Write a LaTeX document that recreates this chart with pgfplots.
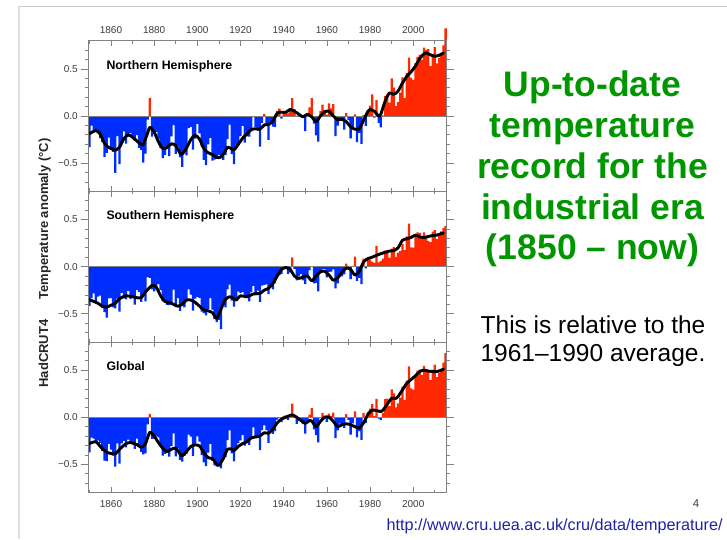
\documentclass[border=0pt]{standalone}
\usepackage{fontspec}
\setmainfont{Liberation Sans}
\usepackage{pgfplots}
\usepackage{pgfplotstable}
\pgfplotsset{compat=1.18}

\definecolor{barblue}{RGB}{0,45,255}
\definecolor{barred}{RGB}{255,40,0}
\definecolor{titlegreen}{RGB}{0,150,0}
\definecolor{urlblue}{RGB}{30,35,165}
\definecolor{axisgray}{RGB}{130,130,130}
\definecolor{labelgray}{RGB}{60,60,60}

% HadCRUT4 annual anomalies (deg C, relative to 1961-1990)
\pgfplotstableread{
year nh sh gl
1850 -0.330 -0.416 -0.373
1851 -0.102 -0.334 -0.218
1852 -0.172 -0.284 -0.228
1853 -0.162 -0.376 -0.269
1854 -0.178 -0.318 -0.248
1855 -0.236 -0.308 -0.272
1856 -0.275 -0.441 -0.358
1857 -0.438 -0.484 -0.461
1858 -0.391 -0.543 -0.467
1859 -0.230 -0.338 -0.284
1860 -0.350 -0.336 -0.343
1861 -0.382 -0.432 -0.407
1862 -0.604 -0.444 -0.524
1863 -0.215 -0.341 -0.278
1864 -0.510 -0.478 -0.494
1865 -0.280 -0.278 -0.279
1866 -0.164 -0.338 -0.251
1867 -0.293 -0.349 -0.321
1868 -0.218 -0.258 -0.238
1869 -0.182 -0.342 -0.262
1870 -0.231 -0.321 -0.276
1871 -0.265 -0.405 -0.335
1872 -0.203 -0.251 -0.227
1873 -0.339 -0.269 -0.304
1874 -0.362 -0.374 -0.368
1875 -0.495 -0.295 -0.395
1876 -0.400 -0.368 -0.384
1877 -0.039 -0.111 -0.075
1878 0.190 -0.120 0.035
1879 -0.218 -0.242 -0.230
1880 -0.190 -0.264 -0.227
1881 -0.168 -0.232 -0.200
1882 -0.241 -0.185 -0.213
1883 -0.341 -0.251 -0.296
1884 -0.448 -0.370 -0.409
1885 -0.416 -0.362 -0.389
1886 -0.327 -0.407 -0.367
1887 -0.427 -0.409 -0.418
1888 -0.217 -0.397 -0.307
1889 -0.097 -0.245 -0.171
1890 -0.402 -0.430 -0.416
1891 -0.326 -0.334 -0.330
1892 -0.440 -0.470 -0.455
1893 -0.540 -0.406 -0.473
1894 -0.386 -0.434 -0.410
1895 -0.418 -0.362 -0.390
1896 -0.130 -0.242 -0.186
1897 -0.115 -0.297 -0.206
1898 -0.356 -0.468 -0.412
1899 -0.239 -0.339 -0.289
1900 -0.084 -0.322 -0.203
1901 -0.185 -0.333 -0.259
1902 -0.326 -0.478 -0.402
1903 -0.465 -0.493 -0.479
1904 -0.521 -0.519 -0.520
1905 -0.301 -0.453 -0.377
1906 -0.232 -0.334 -0.283
1907 -0.473 -0.457 -0.465
1908 -0.463 -0.559 -0.511
1909 -0.454 -0.590 -0.522
1910 -0.414 -0.566 -0.490
1911 -0.424 -0.664 -0.544
1912 -0.467 -0.407 -0.437
1913 -0.414 -0.434 -0.424
1914 -0.245 -0.243 -0.244
1915 -0.091 -0.191 -0.141
1916 -0.406 -0.360 -0.383
1917 -0.510 -0.426 -0.468
1918 -0.313 -0.353 -0.333
1919 -0.285 -0.265 -0.275
1920 -0.213 -0.281 -0.247
1921 -0.104 -0.270 -0.187
1922 -0.282 -0.322 -0.302
1923 -0.216 -0.336 -0.276
1924 -0.220 -0.368 -0.294
1925 -0.160 -0.270 -0.215
1926 -0.011 -0.205 -0.108
1927 -0.118 -0.302 -0.210
1928 -0.156 -0.256 -0.206
1929 -0.325 -0.375 -0.350
1930 -0.072 -0.202 -0.137
1931 0.021 -0.195 -0.087
1932 -0.084 -0.190 -0.137
1933 -0.254 -0.292 -0.273
1934 -0.060 -0.202 -0.131
1935 -0.114 -0.242 -0.178
1936 -0.119 -0.175 -0.147
1937 0.054 -0.106 -0.026
1938 0.079 -0.091 -0.006
1939 -0.027 -0.077 -0.052
1940 0.031 -0.003 0.014
1941 0.051 -0.011 0.020
1942 0.027 -0.081 -0.027
1943 0.054 -0.062 -0.004
1944 0.189 0.099 0.144
1945 0.073 -0.023 0.025
1946 0.003 -0.145 -0.071
1947 0.029 -0.105 -0.038
1948 0.001 -0.079 -0.039
1949 -0.003 -0.145 -0.074
1950 -0.160 -0.186 -0.173
1951 -0.007 -0.097 -0.052
1952 0.092 -0.036 0.028
1953 0.190 0.004 0.097
1954 -0.080 -0.178 -0.129
1955 -0.207 -0.173 -0.190
1956 -0.271 -0.263 -0.267
1957 0.054 -0.068 -0.007
1958 0.121 -0.029 0.046
1959 0.060 -0.026 0.017
1960 0.016 -0.114 -0.049
1961 0.134 -0.058 0.038
1962 0.082 -0.054 0.014
1963 0.126 -0.030 0.048
1964 -0.214 -0.232 -0.223
1965 -0.102 -0.178 -0.140
1966 -0.036 -0.100 -0.068
1967 -0.044 -0.104 -0.074
1968 -0.144 -0.082 -0.113
1969 0.033 0.031 0.032
1970 -0.043 -0.011 -0.027
1971 -0.238 -0.134 -0.186
1972 -0.137 0.007 -0.065
1973 0.017 0.107 0.062
1974 -0.277 -0.151 -0.214
1975 -0.179 -0.119 -0.149
1976 -0.296 -0.186 -0.241
1977 0.009 0.085 0.047
1978 -0.106 -0.018 -0.062
1979 0.045 0.069 0.057
1980 0.111 0.073 0.092
1981 0.230 0.050 0.140
1982 -0.018 0.040 0.011
1983 0.168 0.220 0.194
1984 -0.073 0.045 -0.014
1985 -0.120 0.060 -0.030
1986 0.006 0.084 0.045
1987 0.213 0.171 0.192
1988 0.230 0.166 0.198
1989 0.142 0.094 0.118
1990 0.400 0.192 0.296
1991 0.302 0.206 0.254
1992 0.106 0.104 0.105
1993 0.148 0.148 0.148
1994 0.248 0.168 0.208
1995 0.411 0.239 0.325
1996 0.190 0.176 0.183
1997 0.459 0.321 0.390
1998 0.620 0.458 0.539
1999 0.408 0.204 0.306
2000 0.386 0.202 0.294
2001 0.561 0.321 0.441
2002 0.627 0.365 0.496
2003 0.651 0.359 0.505
2004 0.598 0.296 0.447
2005 0.727 0.363 0.545
2006 0.699 0.313 0.506
2007 0.711 0.271 0.491
2008 0.530 0.260 0.395
2009 0.639 0.373 0.506
2010 0.733 0.387 0.560
2011 0.559 0.291 0.425
2012 0.617 0.323 0.470
2013 0.653 0.375 0.514
2014 0.750 0.408 0.579
2015 0.930 0.430 0.680
}\hadcrut

% Smoothed (decadal) curves
\pgfplotstableread{
year v
1850 -0.190
1851 -0.175
1853 -0.155
1855 -0.190
1857 -0.290
1859 -0.335
1861 -0.355
1862 -0.365
1864 -0.330
1866 -0.240
1868 -0.200
1870 -0.225
1872 -0.265
1874 -0.305
1875 -0.300
1877 -0.180
1878 -0.120
1880 -0.170
1882 -0.275
1884 -0.345
1886 -0.335
1888 -0.295
1890 -0.315
1892 -0.395
1893 -0.405
1895 -0.340
1897 -0.250
1899 -0.205
1901 -0.245
1903 -0.345
1905 -0.390
1907 -0.410
1909 -0.440
1911 -0.435
1913 -0.370
1914 -0.330
1916 -0.350
1917 -0.360
1919 -0.300
1921 -0.235
1923 -0.190
1925 -0.145
1927 -0.135
1929 -0.140
1931 -0.095
1933 -0.090
1935 -0.055
1937 0.030
1939 0.040
1941 0.040
1943 0.070
1945 0.050
1947 0.020
1949 -0.010
1951 0.020
1953 -0.010
1955 -0.060
1957 0.000
1959 0.045
1961 0.050
1963 0.000
1965 -0.040
1967 -0.035
1969 -0.060
1971 -0.115
1973 -0.140
1975 -0.135
1977 -0.045
1979 0.050
1980 0.070
1982 0.050
1984 0.000
1985 0.020
1987 0.160
1989 0.245
1991 0.230
1993 0.265
1995 0.350
1997 0.420
1999 0.470
2001 0.530
2003 0.610
2005 0.660
2006 0.670
2008 0.650
2010 0.635
2012 0.645
2014 0.670
}\nhsmooth

\pgfplotstableread{
year v
1850 -0.350
1852 -0.370
1854 -0.390
1856 -0.420
1858 -0.430
1860 -0.410
1862 -0.390
1864 -0.340
1867 -0.310
1870 -0.320
1872 -0.330
1874 -0.330
1876 -0.270
1879 -0.200
1881 -0.220
1883 -0.310
1885 -0.370
1888 -0.390
1891 -0.420
1893 -0.400
1895 -0.355
1897 -0.355
1899 -0.380
1901 -0.420
1903 -0.460
1905 -0.470
1907 -0.490
1909 -0.550
1911 -0.450
1913 -0.350
1915 -0.320
1917 -0.340
1918 -0.355
1920 -0.310
1923 -0.320
1926 -0.290
1929 -0.285
1931 -0.250
1933 -0.230
1935 -0.180
1937 -0.100
1939 -0.030
1941 -0.010
1943 -0.030
1945 -0.100
1947 -0.125
1949 -0.110
1951 -0.100
1953 -0.150
1955 -0.100
1957 -0.055
1959 -0.050
1961 -0.090
1963 -0.145
1965 -0.120
1967 -0.060
1969 -0.015
1971 -0.030
1973 -0.090
1975 -0.050
1977 0.050
1979 0.085
1981 0.100
1983 0.120
1986 0.145
1989 0.165
1991 0.170
1993 0.200
1995 0.280
1997 0.295
1999 0.310
2001 0.335
2003 0.315
2005 0.310
2007 0.320
2009 0.330
2011 0.335
2013 0.350
2014 0.355
}\shsmooth

\pgfplotstableread{
year v
1850 -0.280
1853 -0.260
1855 -0.310
1857 -0.355
1859 -0.380
1862 -0.390
1864 -0.340
1867 -0.280
1869 -0.270
1872 -0.290
1874 -0.320
1876 -0.280
1878 -0.160
1880 -0.200
1882 -0.270
1884 -0.330
1886 -0.365
1888 -0.340
1890 -0.330
1892 -0.390
1893 -0.410
1895 -0.365
1897 -0.310
1899 -0.295
1901 -0.305
1903 -0.375
1905 -0.430
1907 -0.440
1909 -0.500
1910 -0.510
1912 -0.440
1914 -0.340
1916 -0.340
1917 -0.355
1919 -0.310
1921 -0.280
1923 -0.260
1925 -0.220
1927 -0.210
1929 -0.200
1931 -0.165
1933 -0.170
1935 -0.125
1937 -0.060
1939 -0.020
1941 0.000
1943 0.020
1944 0.025
1946 0.000
1948 -0.035
1950 -0.065
1952 -0.035
1953 -0.040
1955 -0.100
1957 -0.045
1959 0.000
1961 0.000
1963 -0.045
1965 -0.100
1967 -0.080
1969 -0.070
1971 -0.080
1973 -0.100
1975 -0.115
1977 -0.060
1979 0.030
1981 0.075
1983 0.070
1985 0.060
1986 0.075
1988 0.140
1990 0.200
1992 0.200
1993 0.220
1995 0.290
1997 0.360
1999 0.400
2001 0.440
2003 0.485
2005 0.500
2007 0.490
2009 0.485
2011 0.485
2013 0.500
2014 0.510
}\glsmooth

\pgfplotsset{
  panel/.style={
    scale only axis, width=358.4pt, height=150.6pt,
    xmin=1849.5, xmax=2015.5, ymin=-0.8, ymax=0.8,
    clip=false, anchor=north west,
    axis line style={axisgray, line width=0.8pt},
    tick style={axisgray, line width=0.7pt},
    ticklabel style={font=\fontsize{10}{12}\selectfont, text=labelgray},
  },
  databox/.style={
    panel,
    xtick=\empty,
    ytick={-0.5,0,0.5}, yticklabels={−0.5,0.0,0.5},
    minor ytick={-0.7,-0.6,-0.4,-0.3,-0.2,-0.1,0.1,0.2,0.3,0.4,0.6,0.7},
    ytick pos=both, yticklabel pos=left,
    tick align=outside, major tick length=7pt, minor tick length=3.5pt,
  },
  tickbox/.style={
    panel,
    ytick=\empty,
    xtick={1860,1880,...,2000}, minor xtick={1850,1870,...,2010},
    tick align=inside, major tick length=5.5pt, minor tick length=3pt,
  },
  years/.style={xticklabels={1860,1880,1900,1920,1940,1960,1980,2000}},
}
\tikzset{
  paneltitle/.style={anchor=base west, font=\bfseries\fontsize{12.3}{14}\selectfont},
  smoothcurve/.style={black, line width=2.9pt, smooth, tension=0.45, line cap=round, line join=round},
}

\newcommand{\anomalybars}[1]{%
  \addplot[ybar, bar width=1.05, bar shift=0pt, draw=none, fill=barred,
    restrict y to domain=0:2] table[x=year, y=#1] {\hadcrut};
  \addplot[ybar, bar width=1.05, bar shift=0pt, draw=none, fill=barblue,
    restrict y to domain=-2:0] table[x=year, y=#1] {\hadcrut};
  \addplot[axisgray, line width=0.7pt] coordinates {(1849.5,0) (2015.5,0)};
}

\begin{document}
\begin{tikzpicture}
\useasboundingbox (0pt,0pt) rectangle (727pt,-539pt);

% slide frame
\draw[black!12, line width=2pt] (18.5pt,-539pt) -- (18.5pt,-6pt);
\draw[black!20, line width=1pt] (18.5pt,-6pt) -- (727pt,-6pt);

% Northern Hemisphere
\begin{axis}[databox, at={(88.3pt,-40.7pt)}]
  \anomalybars{nh}
  \addplot[smoothcurve] table[x=year, y=v] {\nhsmooth};
  \node[paneltitle] at (rel axis cs:0.041,0.812) {Northern Hemisphere};
\end{axis}
\begin{axis}[tickbox, years, xticklabel pos=right, xticklabel style={yshift=3.5pt}, at={(88.3pt,-40.7pt)}]
\end{axis}

% Southern Hemisphere
\begin{axis}[databox, at={(88.3pt,-191.3pt)}]
  \anomalybars{sh}
  \addplot[smoothcurve] table[x=year, y=v] {\shsmooth};
  \node[paneltitle] at (rel axis cs:0.041,0.81) {Southern Hemisphere};
\end{axis}
\begin{axis}[tickbox, xticklabels={}, at={(88.3pt,-191.3pt)}]
\end{axis}

% Global
\begin{axis}[databox, at={(88.3pt,-341.9pt)}]
  \anomalybars{gl}
  \addplot[smoothcurve] table[x=year, y=v] {\glsmooth};
  \node[paneltitle] at (rel axis cs:0.041,0.807) {Global};
\end{axis}
\begin{axis}[tickbox, years, xticklabel style={yshift=-4.3pt}, at={(88.3pt,-341.9pt)}]
\end{axis}

% shared vertical label
\node[rotate=90, anchor=base west, font=\bfseries\fontsize{13}{15}\selectfont, text=black!85]
  at (48pt,-391pt) {HadCRUT4};
\node[rotate=90, anchor=base west, font=\bfseries\fontsize{13}{15}\selectfont, text=black!85]
  at (48pt,-303pt) {Temperature anomaly (°C)};

% headline
\begin{scope}[every node/.style={anchor=base, text=titlegreen, font=\bfseries\fontsize{35.5}{40.8}\selectfont, inner sep=0pt}]
  \node at (592.5pt,-96.7pt) {Up-to-date};
  \node at (592.5pt,-137.5pt) {temperature};
  \node at (592.5pt,-178.3pt) {record for the};
  \node at (592.5pt,-219.1pt) {industrial era};
  \node at (592.5pt,-259.9pt) {(1850 – now)};
\end{scope}

\node[anchor=base, font=\fontsize{24.5}{28}\selectfont, inner sep=0pt] at (593pt,-333.5pt) {This is relative to the};
\node[anchor=base, font=\fontsize{24.5}{28}\selectfont, inner sep=0pt] at (593pt,-361pt) {1961–1990 average.};

\node[anchor=base, font=\fontsize{11.5}{13}\selectfont, text=black!75, inner sep=0pt] at (696pt,-507pt) {4};
\node[anchor=base west, font=\fontsize{16.2}{18}\selectfont, text=urlblue, inner sep=0pt] at (386.5pt,-530.7pt) {http://www.cru.uea.ac.uk/cru/data/temperature/};
\end{tikzpicture}
\end{document}
